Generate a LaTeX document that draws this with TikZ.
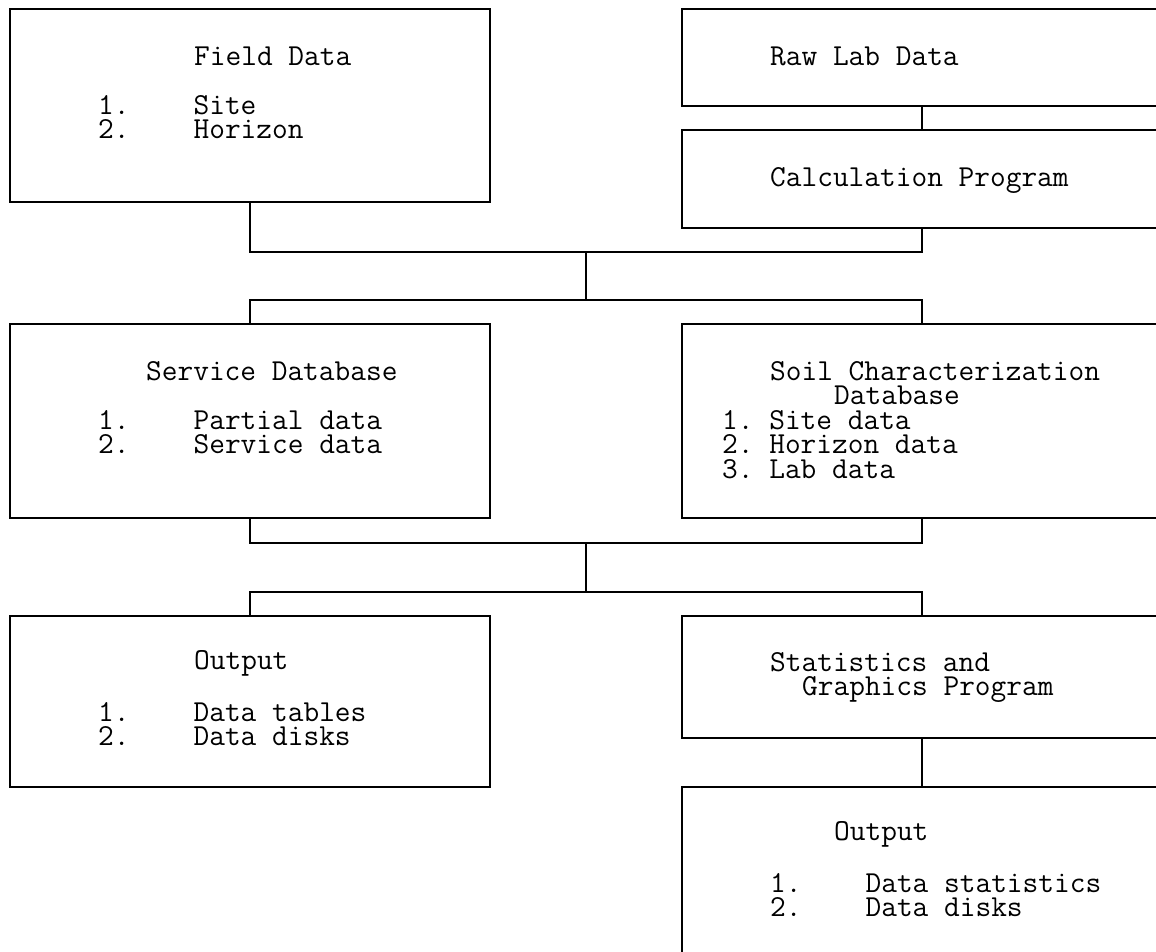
\documentclass[tikz,border=0pt]{standalone}
\usetikzlibrary{positioning}

\newlength\cw
\setlength\cw{16pt}
\newcommand\sk[1]{\hspace*{#1\cw}}

\tikzset{
  blk/.style={draw, line width=1.5pt, minimum width=480pt, inner sep=0pt, outer sep=0pt, anchor=north west},
  txt/.style={anchor=base west, align=left, inner sep=0pt,
    font=\fontsize{30.5}{24.5}\selectfont\ttfamily\frenchspacing},
  wire/.style={line width=1.5pt}
}

\begin{document}
\begin{tikzpicture}[x=1pt,y=1pt]
  \useasboundingbox (0,0) rectangle (1156,-951);
  \clip (0,0) rectangle (1156,-951);

  % boxes
  \node[blk, minimum height=193pt] (field) at (10,-9) {};
  \node[blk, minimum height=97pt] (raw) at (682,-9) {};
  \node[blk, minimum height=98pt, below=24pt of raw] (calc) {};
  \node[blk, minimum height=194pt] (service) at (10,-324) {};
  \node[blk, minimum height=194pt, right=192pt of service.north east, anchor=north west] (soil) {};
  \node[blk, minimum height=171pt] (outl) at (10,-616) {};
  \node[blk, minimum height=122pt] (stats) at (682,-616) {};
  \node[blk, minimum height=171pt, below=49pt of stats] (outr) {};

  % texts (anchored on the baseline of the last line)
  \node[txt] (fieldtxt) at (98,-138.5) {\sk{6}Field Data\\[24.5pt]1.\sk{4}Site\\2.\sk{4}Horizon};
  \node[txt] (rawtxt) at (770,-65) {Raw Lab Data};
  \node[txt] (calctxt) at (770,-186) {Calculation Program};
  \node[txt] (servicetxt) at (98,-453.5) {\sk{3}Service Database\\[24.5pt]1.\sk{4}Partial data\\2.\sk{4}Service data};
  \node[txt] (soiltxt) at (722,-478) {\sk{3}Soil Characterization\\\sk{7}Database\\1. Site data\\2. Horizon data\\3. Lab data};
  \node[txt] (outltxt) at (98,-745.5) {\sk{6}Output\\[24.5pt]1.\sk{4}Data tables\\2.\sk{4}Data disks};
  \node[txt] (statstxt) at (770,-695.5) {Statistics and\\\sk{2}Graphics Program};
  \node[txt] (outrtxt) at (770,-916.5) {\sk{4}Output\\[24.5pt]1.\sk{4}Data statistics\\2.\sk{4}Data disks};

  % connectors
  \coordinate (hub1) at (586,-252);
  \coordinate (hub2) at (586,-300);
  \coordinate (hub3) at (586,-543);
  \coordinate (hub4) at (586,-592);
  \draw[wire] (raw) -- (calc);
  \draw[wire] (field.south) |- (hub1) -| (calc.south);
  \draw[wire] (hub1) -- (hub2);
  \draw[wire] (service.north) |- (hub2) -| (soil.north);
  \draw[wire] (service.south) |- (hub3) -| (soil.south);
  \draw[wire] (hub3) -- (hub4);
  \draw[wire] (outl.north) |- (hub4) -| (stats.north);
  \draw[wire] (stats) -- (outr);
\end{tikzpicture}
\end{document}
